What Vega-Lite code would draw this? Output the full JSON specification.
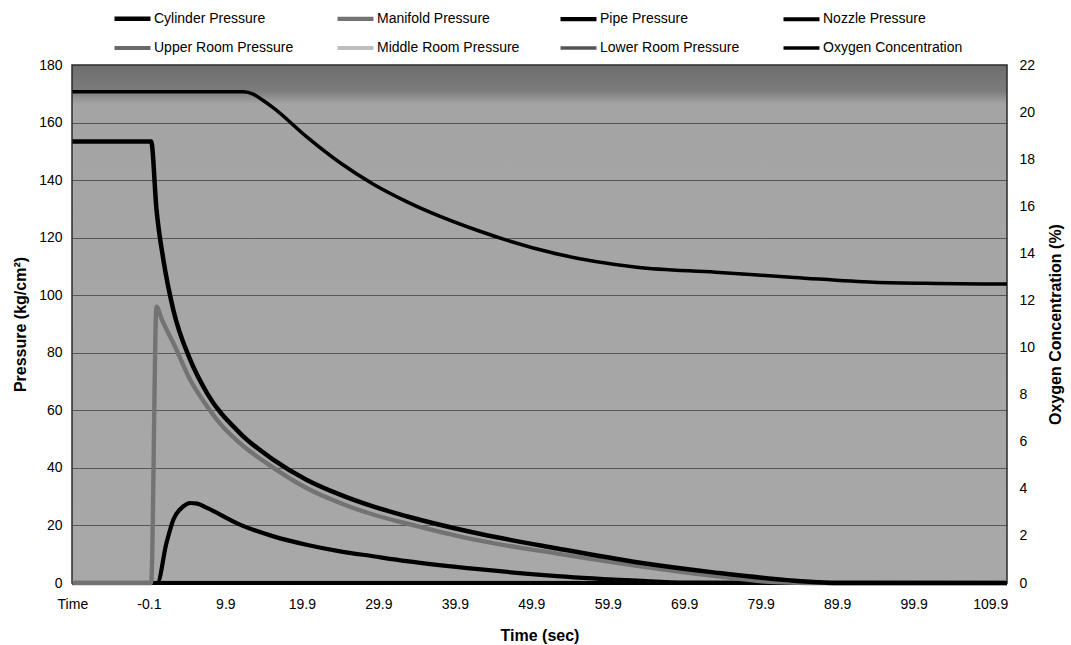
{
  "$schema": "https://vega.github.io/schema/vega-lite/v6.json",
  "autosize": {"type": "none"},
  "width": 935,
  "height": 518,
  "padding": {"left": 72, "top": 65, "right": 64, "bottom": 62},
  "background": "white",
  "config": {
    "font": "Liberation Sans",
    "view": {
      "stroke": "#2a2a2a",
      "strokeWidth": 1.5,
      "fill": {
        "gradient": "linear", "x1": 0, "y1": 0, "x2": 0, "y2": 1,
        "stops": [
          {"offset": 0, "color": "#6e6e6e"},
          {"offset": 0.05, "color": "#7c7c7c"},
          {"offset": 0.075, "color": "#a4a4a4"},
          {"offset": 1, "color": "#a8a8a8"}
        ]
      }
    },
    "axis": {
      "labelFont": "Liberation Sans",
      "labelFontSize": 14,
      "labelColor": "#000",
      "titleFont": "Liberation Sans",
      "titleFontSize": 16,
      "titleFontWeight": "bold",
      "titleColor": "#000",
      "ticks": false,
      "domain": false
    },
    "legend": {
      "labelFont": "Liberation Sans",
      "labelFontSize": 14,
      "labelColor": "#000"
    }
  },
  "data": {
    "values": [
      {"series": "Upper Room Pressure", "t": -10.1, "v": 0.3},
      {"series": "Upper Room Pressure", "t": 50, "v": 0.3},
      {"series": "Upper Room Pressure", "t": 112.1, "v": 0.3},
      {"series": "Middle Room Pressure", "t": -10.1, "v": 0.2},
      {"series": "Middle Room Pressure", "t": 50, "v": 0.2},
      {"series": "Middle Room Pressure", "t": 112.1, "v": 0.2},
      {"series": "Lower Room Pressure", "t": -10.1, "v": 0.1},
      {"series": "Lower Room Pressure", "t": 50, "v": 0.1},
      {"series": "Lower Room Pressure", "t": 112.1, "v": 0.1},
      {"series": "Nozzle Pressure", "t": -10.1, "v": 0},
      {"series": "Nozzle Pressure", "t": 50, "v": 0},
      {"series": "Nozzle Pressure", "t": 112.1, "v": 0},

      {"series": "Pipe Pressure", "t": -10.1, "v": 0},
      {"series": "Pipe Pressure", "t": 1.0, "v": 0},
      {"series": "Pipe Pressure", "t": 2.2, "v": 13.9},
      {"series": "Pipe Pressure", "t": 3.1, "v": 22},
      {"series": "Pipe Pressure", "t": 4.4, "v": 26.6},
      {"series": "Pipe Pressure", "t": 5.3, "v": 27.8},
      {"series": "Pipe Pressure", "t": 6.2, "v": 27.6},
      {"series": "Pipe Pressure", "t": 7.5, "v": 26.1},
      {"series": "Pipe Pressure", "t": 11.8, "v": 20.3},
      {"series": "Pipe Pressure", "t": 16.2, "v": 16.2},
      {"series": "Pipe Pressure", "t": 20.5, "v": 13.3},
      {"series": "Pipe Pressure", "t": 24.9, "v": 11},
      {"series": "Pipe Pressure", "t": 29.2, "v": 9.3},
      {"series": "Pipe Pressure", "t": 33.6, "v": 7.6},
      {"series": "Pipe Pressure", "t": 43, "v": 4.8},
      {"series": "Pipe Pressure", "t": 53.3, "v": 2.4},
      {"series": "Pipe Pressure", "t": 63.7, "v": 0.8},
      {"series": "Pipe Pressure", "t": 70, "v": 0.1},
      {"series": "Pipe Pressure", "t": 112.1, "v": 0},

      {"series": "Manifold Pressure", "t": -10.1, "v": 0},
      {"series": "Manifold Pressure", "t": 0.2, "v": 0},
      {"series": "Manifold Pressure", "t": 0.9, "v": 96},
      {"series": "Manifold Pressure", "t": 1.6, "v": 91.5},
      {"series": "Manifold Pressure", "t": 3.1, "v": 83.4},
      {"series": "Manifold Pressure", "t": 5.3, "v": 70.6},
      {"series": "Manifold Pressure", "t": 7.5, "v": 61.4},
      {"series": "Manifold Pressure", "t": 9.5, "v": 54.5},
      {"series": "Manifold Pressure", "t": 11.8, "v": 48.6},
      {"series": "Manifold Pressure", "t": 16.2, "v": 40},
      {"series": "Manifold Pressure", "t": 20.5, "v": 33},
      {"series": "Manifold Pressure", "t": 24.9, "v": 27.8},
      {"series": "Manifold Pressure", "t": 29.2, "v": 23.8},
      {"series": "Manifold Pressure", "t": 33.3, "v": 20.9},
      {"series": "Manifold Pressure", "t": 42, "v": 15.3},
      {"series": "Manifold Pressure", "t": 53.3, "v": 10.2},
      {"series": "Manifold Pressure", "t": 63.7, "v": 6},
      {"series": "Manifold Pressure", "t": 74, "v": 2.4},
      {"series": "Manifold Pressure", "t": 81, "v": 0.4},
      {"series": "Manifold Pressure", "t": 86, "v": 0},
      {"series": "Manifold Pressure", "t": 112.1, "v": 0},

      {"series": "Cylinder Pressure", "t": -10.1, "v": 153.4},
      {"series": "Cylinder Pressure", "t": 0.2, "v": 153.4},
      {"series": "Cylinder Pressure", "t": 0.9, "v": 129.7},
      {"series": "Cylinder Pressure", "t": 1.8, "v": 112.3},
      {"series": "Cylinder Pressure", "t": 3.1, "v": 94.9},
      {"series": "Cylinder Pressure", "t": 5.3, "v": 77.6},
      {"series": "Cylinder Pressure", "t": 7.5, "v": 66},
      {"series": "Cylinder Pressure", "t": 11.8, "v": 52.1},
      {"series": "Cylinder Pressure", "t": 16.2, "v": 42.8},
      {"series": "Cylinder Pressure", "t": 20.5, "v": 35.9},
      {"series": "Cylinder Pressure", "t": 24.9, "v": 30.7},
      {"series": "Cylinder Pressure", "t": 29.2, "v": 26.6},
      {"series": "Cylinder Pressure", "t": 33.6, "v": 23.2},
      {"series": "Cylinder Pressure", "t": 41.9, "v": 17.8},
      {"series": "Cylinder Pressure", "t": 53.3, "v": 12},
      {"series": "Cylinder Pressure", "t": 63.7, "v": 7.2},
      {"series": "Cylinder Pressure", "t": 74, "v": 3.6},
      {"series": "Cylinder Pressure", "t": 84.3, "v": 0.8},
      {"series": "Cylinder Pressure", "t": 90, "v": 0},
      {"series": "Cylinder Pressure", "t": 112.1, "v": 0},

      {"series": "Oxygen Concentration", "t": -10.1, "v": 20.86},
      {"series": "Oxygen Concentration", "t": 12.3, "v": 20.86},
      {"series": "Oxygen Concentration", "t": 13.6, "v": 20.75},
      {"series": "Oxygen Concentration", "t": 14.8, "v": 20.5},
      {"series": "Oxygen Concentration", "t": 16.1, "v": 20.2},
      {"series": "Oxygen Concentration", "t": 20.5, "v": 18.96},
      {"series": "Oxygen Concentration", "t": 24.9, "v": 17.85},
      {"series": "Oxygen Concentration", "t": 29.2, "v": 16.95},
      {"series": "Oxygen Concentration", "t": 33.6, "v": 16.2},
      {"series": "Oxygen Concentration", "t": 43, "v": 14.96},
      {"series": "Oxygen Concentration", "t": 53.3, "v": 13.97},
      {"series": "Oxygen Concentration", "t": 63.7, "v": 13.41},
      {"series": "Oxygen Concentration", "t": 74, "v": 13.2},
      {"series": "Oxygen Concentration", "t": 84.3, "v": 12.98},
      {"series": "Oxygen Concentration", "t": 94.7, "v": 12.77},
      {"series": "Oxygen Concentration", "t": 103, "v": 12.72},
      {"series": "Oxygen Concentration", "t": 112.1, "v": 12.7}
    ]
  },
  "encoding": {
    "x": {
      "field": "t", "type": "quantitative",
      "scale": {"domain": [-10.15, 112.1], "nice": false, "zero": false},
      "axis": {
        "title": "Time (sec)",
        "values": [-10.1, -0.1, 9.9, 19.9, 29.9, 39.9, 49.9, 59.9, 69.9, 79.9, 89.9, 99.9, 109.9],
        "labelExpr": "datum.value < -5 ? 'Time' : ('' + datum.value)",
        "labelPadding": 14,
        "titlePadding": 16,
        "grid": false,
        "labelFlush": false
      }
    },
    "color": {
      "field": "series", "type": "nominal",
      "scale": {
        "domain": ["Cylinder Pressure", "Manifold Pressure", "Pipe Pressure", "Nozzle Pressure", "Upper Room Pressure", "Middle Room Pressure", "Lower Room Pressure", "Oxygen Concentration"],
        "range": ["#000000", "#737373", "#000000", "#000000", "#6a6a6a", "#bdbdbd", "#555555", "#000000"]
      },
      "legend": {
        "title": null,
        "orient": "none",
        "legendX": 40,
        "legendY": -67,
        "columns": 4,
        "direction": "horizontal",
        "gridAlign": "all",
        "symbolType": "stroke",
        "symbolSize": 1296,
        "symbolStrokeWidth": 6,
        "labelOffset": 1,
        "columnPadding": 31,
        "rowPadding": -24,
        "labelLimit": 200
      }
    },
    "strokeWidth": {
      "field": "series", "type": "nominal",
      "scale": {
        "domain": ["Cylinder Pressure", "Manifold Pressure", "Pipe Pressure", "Nozzle Pressure", "Upper Room Pressure", "Middle Room Pressure", "Lower Room Pressure", "Oxygen Concentration"],
        "range": [4.5, 3.5, 5.5, 4.5, 3, 3, 3, 5]
      },
      "legend": null
    }
  },
  "layer": [
    {
      "transform": [{"filter": "datum.series !== 'Oxygen Concentration'"}],
      "mark": {"type": "line", "interpolate": "monotone"},
      "encoding": {
        "y": {
          "field": "v", "type": "quantitative",
          "scale": {"domain": [0, 180], "nice": false},
          "axis": {
            "title": "Pressure (kg/cm²)",
            "values": [0, 20, 40, 60, 80, 100, 120, 140, 160, 180],
            "grid": true,
            "gridColor": "#3c3c3c",
            "gridWidth": 1,
            "gridOpacity": 0.75,
            "labelPadding": 10,
            "titleX": -52,
            "titleY": 259,
            "titleAngle": 270,
            "titleAlign": "center",
            "titleBaseline": "middle"
          }
        }
      }
    },
    {
      "transform": [{"filter": "datum.series === 'Oxygen Concentration'"}],
      "mark": {"type": "line", "interpolate": "monotone"},
      "encoding": {
        "y": {
          "field": "v", "type": "quantitative",
          "scale": {"domain": [0, 22], "nice": false},
          "axis": {
            "title": "Oxygen Concentration (%)",
            "orient": "right",
            "values": [0, 2, 4, 6, 8, 10, 12, 14, 16, 18, 20, 22],
            "grid": false,
            "labelPadding": 12,
            "titleX": 48,
            "titleY": 259,
            "titleAngle": 270,
            "titleAlign": "center",
            "titleBaseline": "middle"
          }
        }
      }
    }
  ],
  "resolve": {"scale": {"y": "independent"}}
}
